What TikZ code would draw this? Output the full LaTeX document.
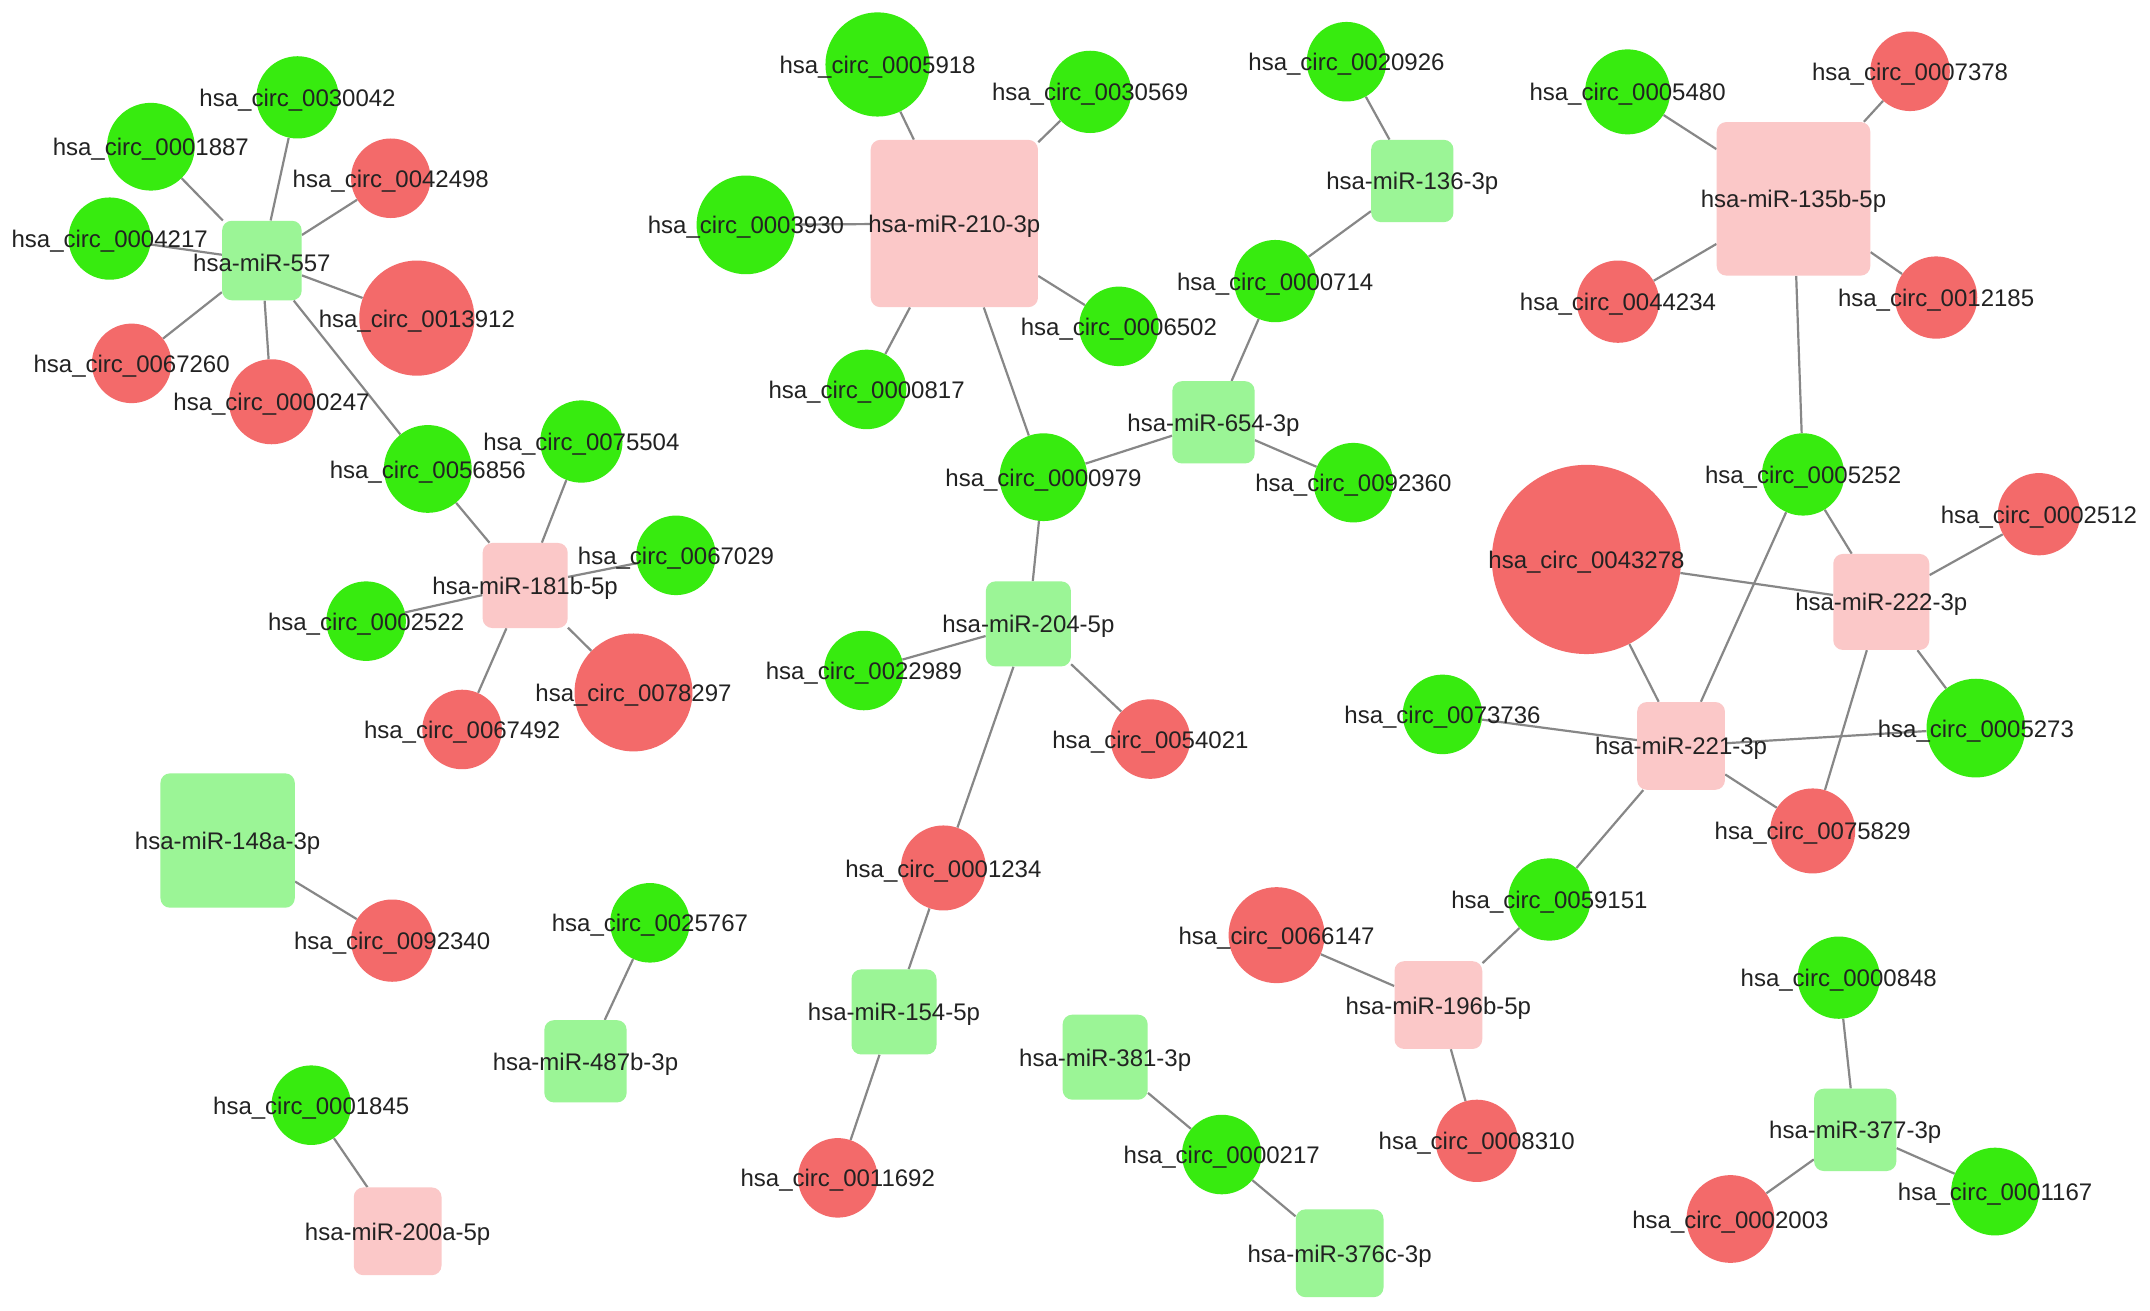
\documentclass[tikz,border=0pt]{standalone}
\usepackage{fontspec}
\setmainfont{Liberation Sans}
\usepackage{xcolor}
\usetikzlibrary{backgrounds}

\definecolor{circgreen}{RGB}{55,235,15}
\definecolor{circred}{RGB}{243,106,106}
\definecolor{mirgreen}{RGB}{155,245,150}
\definecolor{mirpink}{RGB}{251,200,200}
\definecolor{linkgray}{RGB}{135,135,135}
\definecolor{textgray}{RGB}{34,34,34}

\tikzset{
  lbl/.style={font=\fontsize{17.5}{20}\selectfont, text=textgray, inner sep=0pt, anchor=center, yshift=-2pt},
  circdown/.style={circle, fill=circgreen, inner sep=0pt, minimum size=#1pt},
  circup/.style={circle, fill=circred, inner sep=0pt, minimum size=#1pt},
  mirdown/.style={rectangle, rounded corners=7pt, fill=mirgreen, inner sep=0pt, minimum size=#1pt},
  mirup/.style={rectangle, rounded corners=7pt, fill=mirpink, inner sep=0pt, minimum size=#1pt},
  link/.style={draw=linkgray, line width=1.6pt},
}

\begin{document}
\begin{tikzpicture}[x=1pt, y=-1pt]
    \useasboundingbox (0,0) rectangle (1568,956);

    % hsa-miR-557
    \node[mirdown=58, label={[lbl]center:hsa-miR-557}] (m557) at (191,190) {};
    \node[circdown=60, label={[lbl]center:hsa\_circ\_0030042}] (c0030042) at (217,71) {};
    \node[circdown=64, label={[lbl]center:hsa\_circ\_0001887}] (c0001887) at (110,107) {};
    \node[circup=58, label={[lbl]center:hsa\_circ\_0042498}] (c0042498) at (285,130) {};
    \node[circdown=60, label={[lbl]center:hsa\_circ\_0004217}] (c0004217) at (80,174) {};
    \node[circup=84, label={[lbl]center:hsa\_circ\_0013912}] (c0013912) at (304,232) {};
    \node[circup=58, label={[lbl]center:hsa\_circ\_0067260}] (c0067260) at (96,265) {};
    \node[circup=62, label={[lbl]center:hsa\_circ\_0000247}] (c0000247) at (198,293) {};
    \node[circdown=64, label={[lbl]center:hsa\_circ\_0056856}] (c0056856) at (312,342) {};

    % hsa-miR-181b-5p
    \node[mirup=62, label={[lbl]center:hsa-miR-181b-5p}] (m181b) at (383,427) {};
    \node[circdown=60, label={[lbl]center:hsa\_circ\_0075504}] (c0075504) at (424,322) {};
    \node[circdown=58, label={[lbl]center:hsa\_circ\_0067029}] (c0067029) at (493,405) {};
    \node[circdown=58, label={[lbl]center:hsa\_circ\_0002522}] (c0002522) at (267,453) {};
    \node[circup=86, label={[lbl]center:hsa\_circ\_0078297}] (c0078297) at (462,505) {};
    \node[circup=58, label={[lbl]center:hsa\_circ\_0067492}] (c0067492) at (337,532) {};

    % pares isolados (esquerda)
    \node[mirdown=98, label={[lbl]center:hsa-miR-148a-3p}] (m148a) at (166,613) {};
    \node[circup=60, label={[lbl]center:hsa\_circ\_0092340}] (c0092340) at (286,686) {};
    \node[mirdown=60, label={[lbl]center:hsa-miR-487b-3p}] (m487b) at (427,774) {};
    \node[circdown=58, label={[lbl]center:hsa\_circ\_0025767}] (c0025767) at (474,673) {};
    \node[mirup=64, label={[lbl]center:hsa-miR-200a-5p}] (m200a) at (290,898) {};
    \node[circdown=58, label={[lbl]center:hsa\_circ\_0001845}] (c0001845) at (227,806) {};

    % hsa-miR-210-3p
    \node[mirup=122, label={[lbl]center:hsa-miR-210-3p}] (m210) at (696,163) {};
    \node[circdown=76, label={[lbl]center:hsa\_circ\_0005918}] (c0005918) at (640,47) {};
    \node[circdown=60, label={[lbl]center:hsa\_circ\_0030569}] (c0030569) at (795,67) {};
    \node[circdown=72, label={[lbl]center:hsa\_circ\_0003930}] (c0003930) at (544,164) {};
    \node[circdown=58, label={[lbl]center:hsa\_circ\_0006502}] (c0006502) at (816,238) {};
    \node[circdown=58, label={[lbl]center:hsa\_circ\_0000817}] (c0000817) at (632,284) {};
    \node[circdown=64, label={[lbl]center:hsa\_circ\_0000979}] (c0000979) at (761,348) {};

    % hsa-miR-654-3p e hsa-miR-136-3p
    \node[mirdown=60, label={[lbl]center:hsa-miR-654-3p}] (m654) at (885,308) {};
    \node[circdown=60, label={[lbl]center:hsa\_circ\_0000714}] (c0000714) at (930,205) {};
    \node[circdown=58, label={[lbl]center:hsa\_circ\_0092360}] (c0092360) at (987,352) {};
    \node[mirdown=60, label={[lbl]center:hsa-miR-136-3p}] (m136) at (1030,132) {};
    \node[circdown=58, label={[lbl]center:hsa\_circ\_0020926}] (c0020926) at (982,45) {};

    % hsa-miR-204-5p e hsa-miR-154-5p
    \node[mirdown=62, label={[lbl]center:hsa-miR-204-5p}] (m204) at (750,455) {};
    \node[circdown=58, label={[lbl]center:hsa\_circ\_0022989}] (c0022989) at (630,489) {};
    \node[circup=58, label={[lbl]center:hsa\_circ\_0054021}] (c0054021) at (839,539) {};
    \node[circup=62, label={[lbl]center:hsa\_circ\_0001234}] (c0001234) at (688,633) {};
    \node[mirdown=62, label={[lbl]center:hsa-miR-154-5p}] (m154) at (652,738) {};
    \node[circup=58, label={[lbl]center:hsa\_circ\_0011692}] (c0011692) at (611,859) {};

    % hsa-miR-381-3p e hsa-miR-376c-3p
    \node[mirdown=62, label={[lbl]center:hsa-miR-381-3p}] (m381) at (806,771) {};
    \node[circdown=58, label={[lbl]center:hsa\_circ\_0000217}] (c0000217) at (891,842) {};
    \node[mirdown=64, label={[lbl]center:hsa-miR-376c-3p}] (m376c) at (977,914) {};

    % hsa-miR-135b-5p
    \node[mirup=112, label={[lbl]center:hsa-miR-135b-5p}] (m135b) at (1308,145) {};
    \node[circdown=62, label={[lbl]center:hsa\_circ\_0005480}] (c0005480) at (1187,67) {};
    \node[circup=58, label={[lbl]center:hsa\_circ\_0007378}] (c0007378) at (1393,52) {};
    \node[circup=60, label={[lbl]center:hsa\_circ\_0044234}] (c0044234) at (1180,220) {};
    \node[circup=60, label={[lbl]center:hsa\_circ\_0012185}] (c0012185) at (1412,217) {};
    \node[circdown=60, label={[lbl]center:hsa\_circ\_0005252}] (c0005252) at (1315,346) {};

    % hsa-miR-222-3p e hsa-miR-221-3p
    \node[circup=138, label={[lbl]center:hsa\_circ\_0043278}] (c0043278) at (1157,408) {};
    \node[mirup=70, label={[lbl]center:hsa-miR-222-3p}] (m222) at (1372,439) {};
    \node[circup=60, label={[lbl]center:hsa\_circ\_0002512}] (c0002512) at (1487,375) {};
    \node[circdown=72, label={[lbl]center:hsa\_circ\_0005273}] (c0005273) at (1441,531) {};
    \node[mirup=64, label={[lbl]center:hsa-miR-221-3p}] (m221) at (1226,544) {};
    \node[circdown=58, label={[lbl]center:hsa\_circ\_0073736}] (c0073736) at (1052,521) {};
    \node[circup=62, label={[lbl]center:hsa\_circ\_0075829}] (c0075829) at (1322,606) {};
    \node[circdown=60, label={[lbl]center:hsa\_circ\_0059151}] (c0059151) at (1130,656) {};

    % hsa-miR-196b-5p
    \node[mirup=64, label={[lbl]center:hsa-miR-196b-5p}] (m196b) at (1049,733) {};
    \node[circup=70, label={[lbl]center:hsa\_circ\_0066147}] (c0066147) at (931,682) {};
    \node[circup=60, label={[lbl]center:hsa\_circ\_0008310}] (c0008310) at (1077,832) {};

    % hsa-miR-377-3p
    \node[mirdown=60, label={[lbl]center:hsa-miR-377-3p}] (m377) at (1353,824) {};
    \node[circdown=60, label={[lbl]center:hsa\_circ\_0000848}] (c0000848) at (1341,713) {};
    \node[circup=64, label={[lbl]center:hsa\_circ\_0002003}] (c0002003) at (1262,889) {};
    \node[circdown=64, label={[lbl]center:hsa\_circ\_0001167}] (c0001167) at (1455,869) {};

    % Ligacoes (atras dos nos)
    \begin{pgfonlayer}{background}
      \fill[white] (0,0) rectangle (1568,956);
      \draw[link] (m557) -- (c0030042) (m557) -- (c0001887) (m557) -- (c0042498) (m557) -- (c0004217)
                  (m557) -- (c0013912) (m557) -- (c0067260) (m557) -- (c0000247) (m557) -- (c0056856);
      \draw[link] (m181b) -- (c0056856) (m181b) -- (c0075504) (m181b) -- (c0067029)
                  (m181b) -- (c0002522) (m181b) -- (c0078297) (m181b) -- (c0067492);
      \draw[link] (m148a) -- (c0092340) (m487b) -- (c0025767) (m200a) -- (c0001845);
      \draw[link] (m210) -- (c0005918) (m210) -- (c0030569) (m210) -- (c0003930)
                  (m210) -- (c0006502) (m210) -- (c0000817) (m210) -- (c0000979);
      \draw[link] (m654) -- (c0000979) (m654) -- (c0000714) (m654) -- (c0092360);
      \draw[link] (m136) -- (c0020926) (m136) -- (c0000714);
      \draw[link] (m204) -- (c0000979) (m204) -- (c0022989) (m204) -- (c0054021) (m204) -- (c0001234);
      \draw[link] (m154) -- (c0001234) (m154) -- (c0011692);
      \draw[link] (m381) -- (c0000217) (m376c) -- (c0000217);
      \draw[link] (m135b) -- (c0005480) (m135b) -- (c0007378) (m135b) -- (c0044234)
                  (m135b) -- (c0012185) (m135b) -- (c0005252);
      \draw[link] (m222) -- (c0005252) (m222) -- (c0043278) (m222) -- (c0002512)
                  (m222) -- (c0005273) (m222) -- (c0075829);
      \draw[link] (m221) -- (c0005252) (m221) -- (c0043278) (m221) -- (c0073736)
                  (m221) -- (c0005273) (m221) -- (c0075829) (m221) -- (c0059151);
      \draw[link] (m196b) -- (c0059151) (m196b) -- (c0066147) (m196b) -- (c0008310);
      \draw[link] (m377) -- (c0000848) (m377) -- (c0002003) (m377) -- (c0001167);
    \end{pgfonlayer}
\end{tikzpicture}
\end{document}
